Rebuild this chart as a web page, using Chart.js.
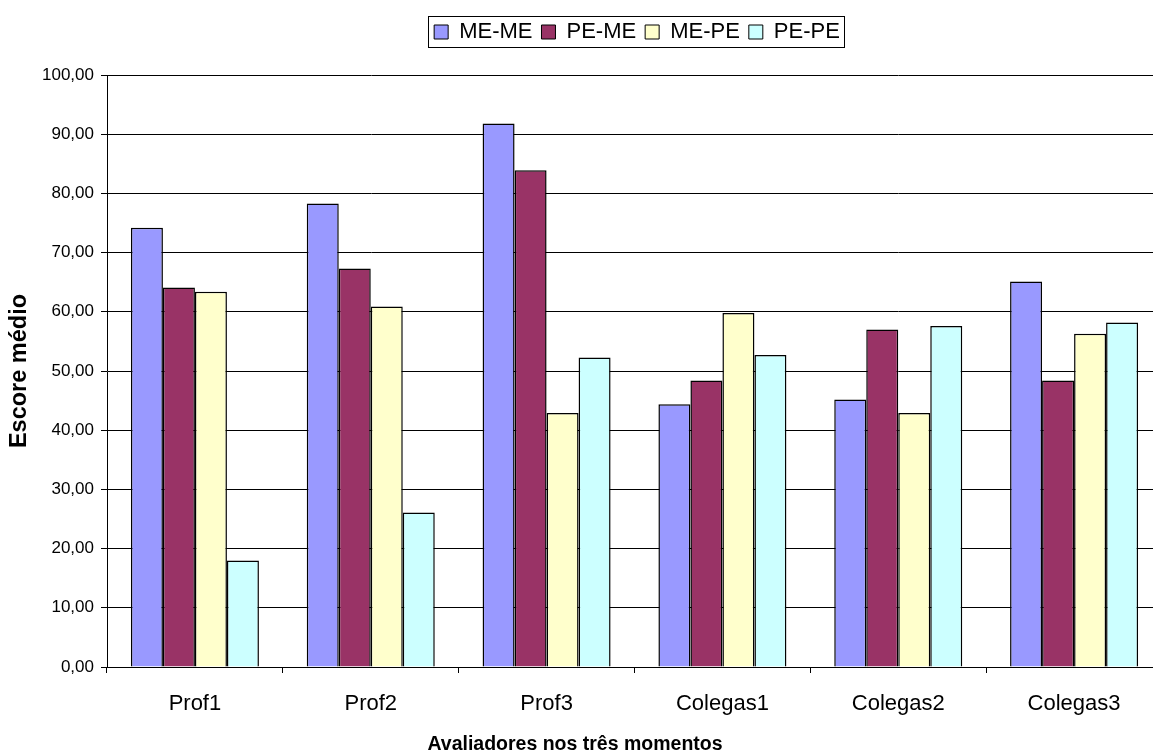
<!DOCTYPE html>
<html><head><meta charset="utf-8">
<script src="https://cdn.jsdelivr.net/npm/chart.js@4/dist/chart.umd.min.js"></script>
<style>html,body{margin:0;padding:0;background:#fff;overflow:hidden;width:1153px;height:756px}</style>
</head><body>
<canvas id="c" width="1172" height="756" style="width:1172px;height:756px;display:block"></canvas>
<script>
const categories = ['Prof1', 'Prof2', 'Prof3', 'Colegas1', 'Colegas2', 'Colegas3'];
const seriesNames = ['ME-ME', 'PE-ME', 'ME-PE', 'PE-PE'];
const meMe = [74.2, 78.3, 91.8, 44.4, 45.2, 65.1];
const peMe = [64.1, 67.3, 83.9, 48.4, 57.0, 48.4];
const mePe = [63.4, 60.9, 42.9, 59.8, 42.9, 56.3];
const pePe = [18.0, 26.1, 52.3, 52.7, 57.6, 58.2];
const seriesColors = ['#9999FF', '#993366', '#FFFFCC', '#CCFFFF'];
const yTitle = 'Escore médio';
const xTitle = 'Avaliadores nos três momentos';

const FONT = "'Liberation Sans', Arial, sans-serif";
const seriesValues = [meMe, peMe, mePe, pePe];
const LEGEND_CENTER = 637;
const XTITLE_CENTER = 575;
const LEGEND_GAP = 22;

const legendTweaks = {
  id: 'legendTweaks',
  beforeLayout(chart) {
    const lg = chart.legend;
    if (lg && !lg._gapPatched) {
      const orig = lg.fit;
      lg.fit = function () { orig.call(this); this.height += LEGEND_GAP; };
      lg._gapPatched = true;
    }
  },
  afterLayout(chart) {
    const lg = chart.legend;
    if (lg) { const dx = LEGEND_CENTER - (lg.left + lg.right) / 2; lg.left += dx; lg.right += dx; }
    const t = chart.titleBlock;
    if (t) { const dx = XTITLE_CENTER - (t.left + t.right) / 2; t.left += dx; t.right += dx; }
  },
  afterDraw(chart) {
    const lg = chart.legend;
    if (!lg || !lg.legendHitBoxes || !lg.legendHitBoxes.length) return;
    const hb = lg.legendHitBoxes;
    let x0 = Infinity, x1 = -Infinity, y0 = Infinity, y1 = -Infinity;
    hb.forEach(b => { x0 = Math.min(x0, b.left); x1 = Math.max(x1, b.left + b.width); y0 = Math.min(y0, b.top); y1 = Math.max(y1, b.top + b.height); });
    const ctx = chart.ctx;
    ctx.save();
    ctx.strokeStyle = '#000';
    ctx.lineWidth = 1;
    ctx.strokeRect(Math.round(x0 - 6) + 0.5, Math.round(y0 - 5) + 0.5, Math.round(x1 - x0 + 10), Math.round(y1 - y0 + 9));
    ctx.restore();
  }
};

new Chart(document.getElementById('c'), {
  type: 'bar',
  data: {
    labels: categories,
    datasets: seriesNames.map((n, i) => ({
      label: n,
      data: seriesValues[i],
      backgroundColor: seriesColors[i],
      borderColor: '#000',
      borderWidth: 1.5,
      borderSkipped: 'bottom',
      barPercentage: 1.0,
      categoryPercentage: 0.728
    }))
  },
  options: {
    responsive: false,
    animation: false,
    devicePixelRatio: 1,
    layout: { padding: { top: 12, right: 10, bottom: 0, left: 0 } },
    plugins: {
      tooltip: { enabled: false },
      title: {
        display: true, position: 'bottom', text: xTitle, color: '#000',
        font: { family: FONT, size: 19.5, weight: 'bold', lineHeight: 1.2 }, padding: 0
      },
      legend: {
        display: true,
        position: 'top',
        onClick: null,
        labels: {
          color: '#000',
          font: { family: FONT, size: 22 },
          boxWidth: 14,
          boxHeight: 14,
          padding: 9,
          generateLabels(chart) {
            return chart.data.datasets.map((d, i) => ({
              text: d.label, fillStyle: d.backgroundColor, strokeStyle: '#000', lineWidth: 1, hidden: false, datasetIndex: i, fontColor: '#000'
            }));
          }
        }
      }
    },
    scales: {
      x: {
        grid: { display: true, drawOnChartArea: false, drawTicks: true, tickLength: 6, color: '#000', offset: true },
        border: { display: true, color: '#000', width: 1 },
        ticks: { color: '#000', font: { family: FONT, size: 22 }, padding: 18, maxRotation: 0 },
        afterFit(scale) { scale.height = 65.6; }
      },
      y: {
        min: 0, max: 100,
        grid: { color: '#000', lineWidth: 1, tickLength: 6, drawTicks: true },
        border: { display: true, color: '#000', width: 1 },
        ticks: {
          stepSize: 10, color: '#000', font: { family: FONT, size: 17 }, padding: 7,
          callback: v => v.toFixed(2).replace('.', ',')
        },
        title: { display: true, text: yTitle, color: '#000', font: { family: FONT, size: 23.5, weight: 'bold' }, padding: { top: 5, bottom: 0 } },
        afterFit(scale) { scale.width = 107; }
      }
    }
  },
  plugins: [legendTweaks]
});
</script>
</body></html>
